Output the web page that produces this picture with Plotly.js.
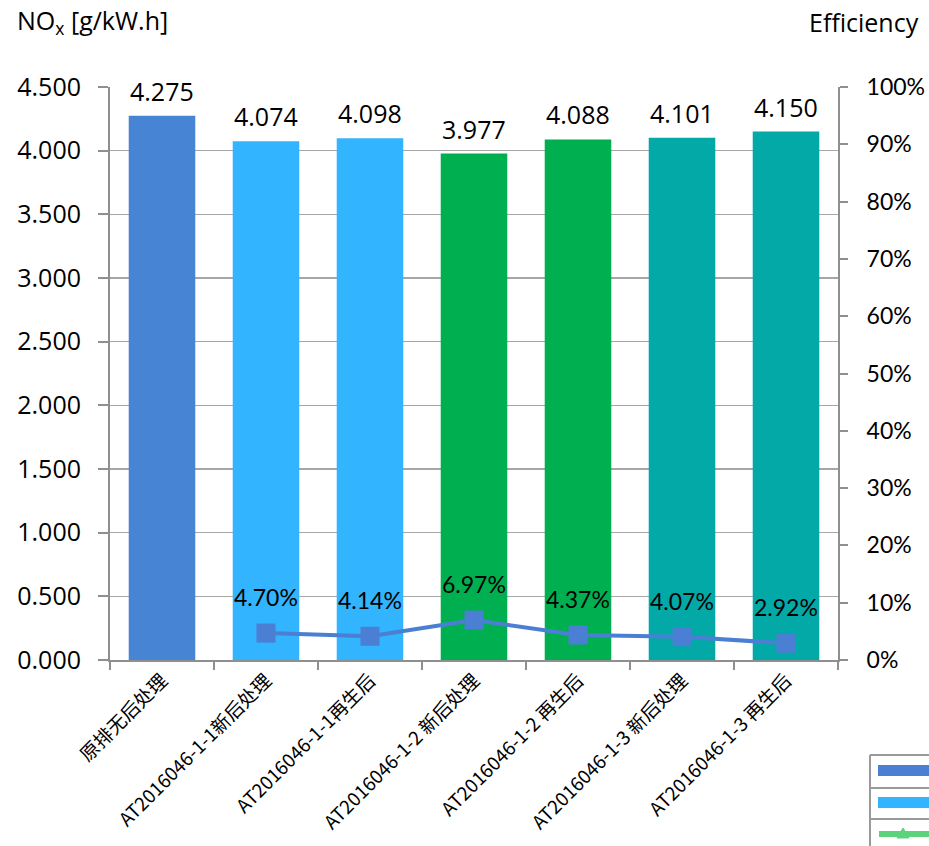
<!DOCTYPE html>
<html>
<head>
<meta charset="utf-8">
<script src="https://cdn.plot.ly/plotly-3.0.1.min.js"></script>
<style>
  html, body { margin: 0; padding: 0; background: #fff; }
  #chart { width: 929px; height: 846px; }
</style>
</head>
<body>
<div id="chart"></div>
<script>
// NOx emission per test condition and after-treatment conversion efficiency
const categories = [
  '原排无后处理',
  'AT2016046-1-1新后处理',
  'AT2016046-1-1再生后',
  'AT2016046-1-2 新后处理',
  'AT2016046-1-2 再生后',
  'AT2016046-1-3 新后处理',
  'AT2016046-1-3 再生后'
];
const noxValues = [4.275, 4.074, 4.098, 3.977, 4.088, 4.101, 4.150];
const efficiencyPct = [null, 4.70, 4.14, 6.97, 4.37, 4.07, 2.92];
const barColors = ['#4784D4', '#33B4FF', '#33B4FF', '#00B050', '#00B050', '#03A9A6', '#03A9A6'];

const axisGrey = '#8f8f8f';
const gridGrey = '#a6a6a6';
const numFont = '"Open Sans", Lato, sans-serif';
const pctFont = 'Lato, "Open Sans", sans-serif';

// plot-area geometry in pixels (used for paper-referenced decorations)
const M = { l: 110, r: 91, t: 87, b: 186 };
const W = 929, H = 846;
const PW = W - M.l - M.r, PH = H - M.t - M.b;
const px = x => (x - M.l) / PW;
const py = y => (H - M.b - y) / PH;

const bars = {
  type: 'bar',
  x: categories,
  y: noxValues,
  marker: { color: barColors, line: { width: 0 } },
  width: 0.64,
  hoverinfo: 'skip',
  showlegend: false
};

const effLine = {
  type: 'scatter',
  mode: 'lines+markers',
  x: categories,
  y: efficiencyPct,
  yaxis: 'y2',
  line: { color: '#4A7FD3', width: 4 },
  marker: { symbol: 'square', size: 19, color: '#4A7FD3' },
  connectgaps: false,
  hoverinfo: 'skip',
  showlegend: false
};

const annotations = [];
categories.forEach((c, i) => {
  annotations.push({
    x: c, y: noxValues[i], xref: 'x', yref: 'y',
    text: noxValues[i].toFixed(3), showarrow: false,
    yanchor: 'middle', yshift: 25,
    font: { family: numFont, size: 25, color: '#000' }
  });
  if (efficiencyPct[i] !== null) {
    annotations.push({
      x: c, y: efficiencyPct[i], xref: 'x', yref: 'y2',
      text: efficiencyPct[i].toFixed(2) + '%', showarrow: false,
      yanchor: 'middle', yshift: 36,
      font: { family: pctFont, size: 23, color: '#000' }
    });
  }
});

annotations.push({
  xref: 'paper', yref: 'paper', x: px(15), y: py(22),
  xanchor: 'left', yanchor: 'middle', showarrow: false,
  text: 'NO<sub>x</sub> [g/kW.h]',
  font: { family: numFont, size: 25, color: '#000' }
});
annotations.push({
  xref: 'paper', yref: 'paper', x: px(921), y: py(22),
  xanchor: 'right', yanchor: 'middle', showarrow: false,
  text: 'Efficiency',
  font: { family: numFont, size: 25, color: '#000' }
});

// legend box in the lower right corner (partly outside the page)
const legendShapes = [
  { type: 'line', xref: 'paper', yref: 'paper', x0: px(870), x1: px(870), y0: py(755), y1: py(850), line: { color: '#9a9a9a', width: 2 } },
  { type: 'line', xref: 'paper', yref: 'paper', x0: px(870), x1: px(935), y0: py(755), y1: py(755), line: { color: '#9a9a9a', width: 2 } },
  { type: 'line', xref: 'paper', yref: 'paper', x0: px(870), x1: px(935), y0: py(788), y1: py(788), line: { color: '#9a9a9a', width: 2 } },
  { type: 'line', xref: 'paper', yref: 'paper', x0: px(870), x1: px(935), y0: py(819), y1: py(819), line: { color: '#9a9a9a', width: 2 } },
  { type: 'rect', xref: 'paper', yref: 'paper', x0: px(878), x1: px(935), y0: py(765), y1: py(776), fillcolor: '#4A7FD3', line: { width: 0 } },
  { type: 'rect', xref: 'paper', yref: 'paper', x0: px(878), x1: px(935), y0: py(797), y1: py(808), fillcolor: '#33B4FF', line: { width: 0 } },
  { type: 'line', xref: 'paper', yref: 'paper', x0: px(879), x1: px(935), y0: py(834), y1: py(834), line: { color: '#5CD37B', width: 6 } },
  { type: 'path', xref: 'paper', yref: 'paper',
    path: `M ${px(897)} ${py(838)} L ${px(909)} ${py(838)} L ${px(903)} ${py(828)} Z`,
    fillcolor: '#5CD37B', line: { color: '#5CD37B', width: 1 } }
];

const layout = {
  width: W, height: H,
  margin: M,
  paper_bgcolor: '#fff', plot_bgcolor: '#fff',
  bargap: 0.36,
  showlegend: false,
  xaxis: {
    type: 'category',
    range: [-0.5, 6.5],
    tickson: 'boundaries',
    ticks: 'outside', ticklen: 8, tickwidth: 2, tickcolor: axisGrey,
    showline: true, linecolor: axisGrey, linewidth: 2,
    showgrid: false,
    tickangle: -45,
    tickfont: { family: '"Noto Sans CJK SC", sans-serif', size: 19, color: '#000' }
  },
  yaxis: {
    range: [0, 4.5], dtick: 0.5, tick0: 0,
    tickformat: '.3f',
    ticks: 'outside', ticklen: 10, tickwidth: 2, tickcolor: axisGrey,
    showline: true, linecolor: axisGrey, linewidth: 2,
    showgrid: true, gridcolor: gridGrey, gridwidth: 1.5,
    zeroline: false,
    tickfont: { family: numFont, size: 25, color: '#000' },
    ticklabelstandoff: 12
  },
  yaxis2: {
    overlaying: 'y', side: 'right',
    range: [0, 100], dtick: 10, tick0: 0,
    ticksuffix: '%',
    ticks: 'outside', ticklen: 8, tickwidth: 2, tickcolor: axisGrey,
    showline: true, linecolor: axisGrey, linewidth: 2,
    showgrid: false, zeroline: false,
    tickfont: { family: pctFont, size: 23, color: '#000' },
    ticklabelstandoff: 14
  },
  annotations: annotations,
  shapes: legendShapes
};

Plotly.newPlot('chart', [bars, effLine], layout, { staticPlot: true, displayModeBar: false });
</script>
</body>
</html>
